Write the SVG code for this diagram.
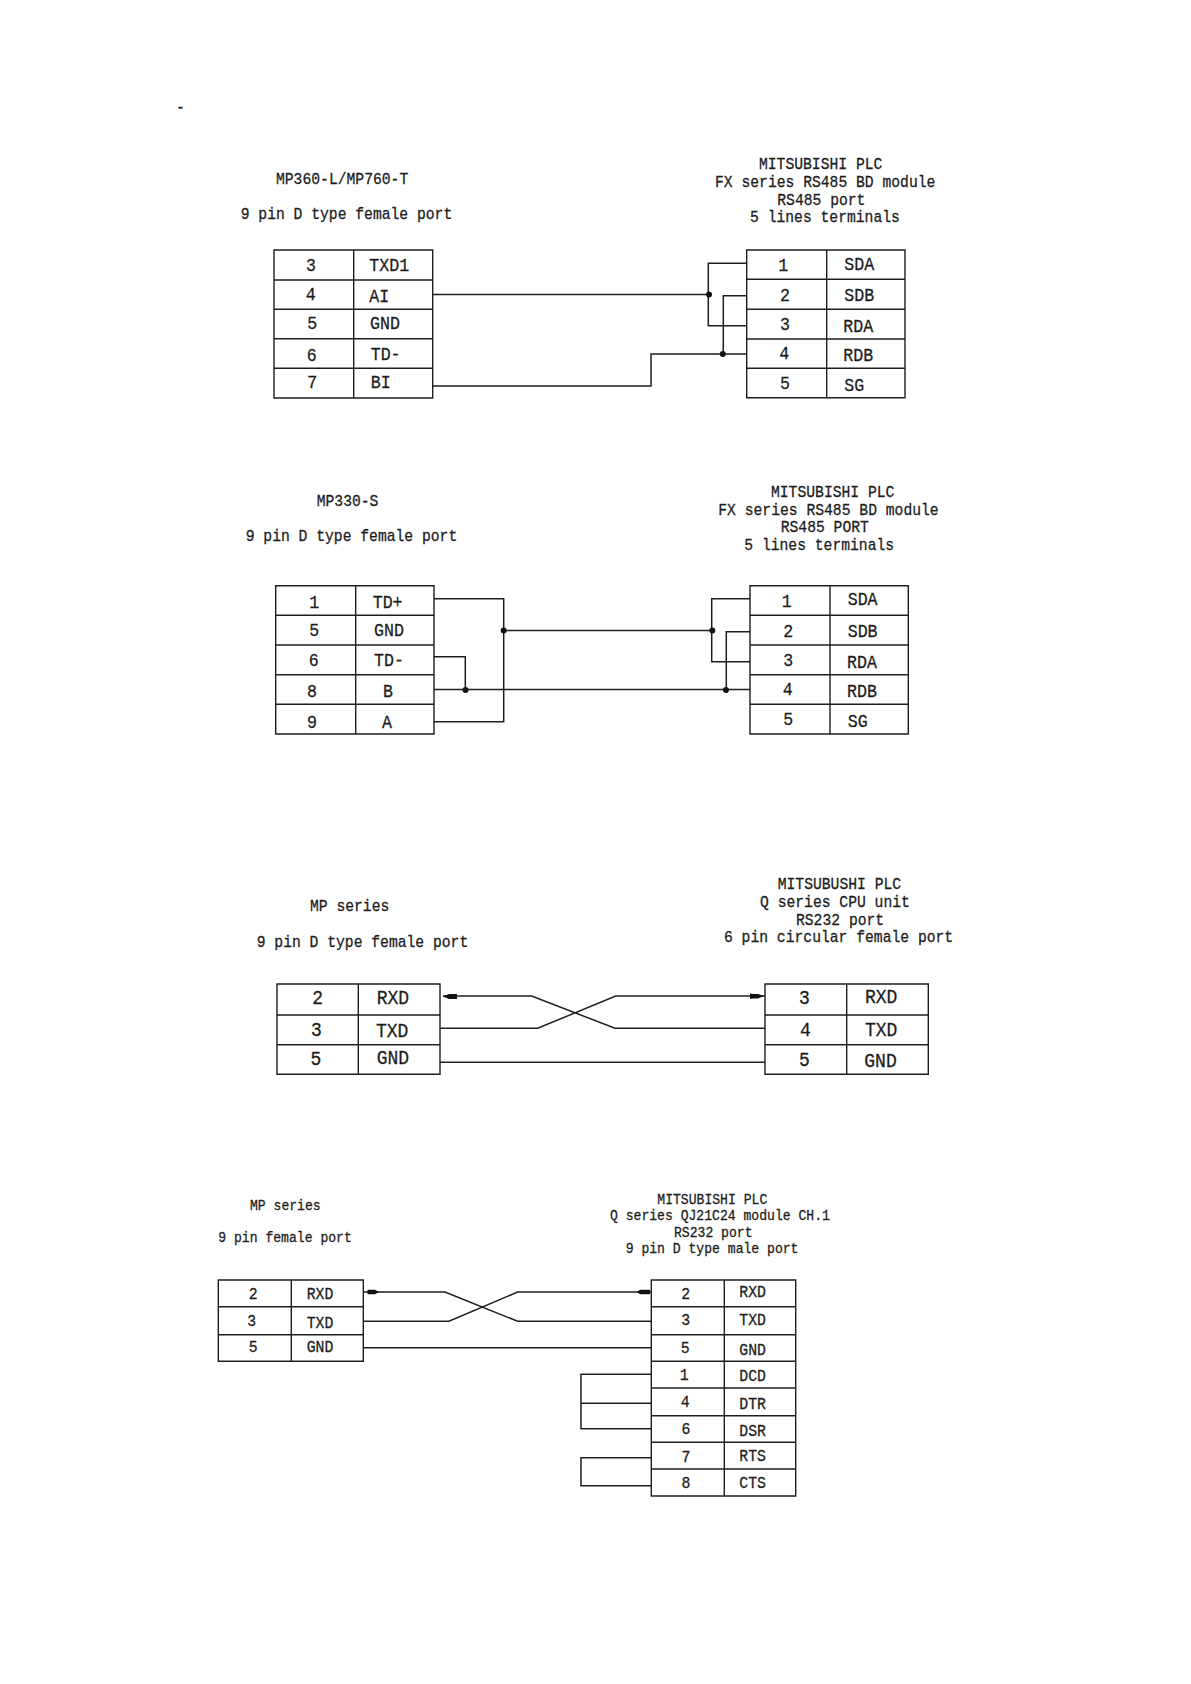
<svg xmlns="http://www.w3.org/2000/svg" width="1191" height="1684" viewBox="0 0 1191 1684">
<style>
text{font-family:"Liberation Mono",monospace;fill:#1c1c1c;stroke:#1c1c1c;stroke-width:.25;transform-box:fill-box;transform-origin:0 74%;transform:translateY(-.8px) scaleY(1.16)}
.t{font-size:14.7px}
.s{font-size:13.1px}
.c1{font-size:16.6px}
.c2{font-size:18px}
.c3{font-size:14.8px}
.n{text-anchor:middle}
.b{fill:none;stroke:#1e1e1e;stroke-width:1.4}
.w{fill:none;stroke:#1e1e1e;stroke-width:1.5}
.d{fill:#111}
</style>
<rect width="1191" height="1684" fill="#fff"/>
<text id="dash" x="176" y="113" class="t">-</text>

<g id="connectors">
<path class="w" d="M433 294.5H709M746.7 263.3H708.3V325.7H746.7M746.7 295.7H723.3V354M746.7 354H651V386H433"/>
<circle class="d" cx="709" cy="294.5" r="3"/><circle class="d" cx="722.8" cy="354" r="3"/>
<path class="w" d="M434 598.7H503.7V721.7H434M503.7 630.5H712M750 598.7H711.7V661.7H750M750 631.7H726.3V689.5M434 689.5H750M434 656.7H465.3V689.5"/>
<circle class="d" cx="503.7" cy="630.5" r="3"/><circle class="d" cx="712.3" cy="630.5" r="3"/><circle class="d" cx="465.5" cy="690" r="3"/><circle class="d" cx="726" cy="690" r="3"/>
<path class="w" d="M443 996H531.7L615 1028.3H765M440 1028.3H537.7L615.7 996H765M440 1062.3H765"/>
<path class="d" d="M443 996.5L449 994H457V999H449Z"/>
<path class="d" d="M750 993.5L753 994H758L764 996L758 998.5H753L750 999Z"/>
<path class="w" d="M364 1292H445L517.7 1321.3H651.3M363.3 1321.3H449L517.7 1292H651.3M363.3 1347.7H651.3"/>
<path class="d" d="M367.5 1289.8H375L379 1292L375 1294.2H367.5Z"/>
<path class="d" d="M637 1292L640 1289.8H650V1294.2H640Z"/>
<path class="w" d="M651.3 1374.3H581V1428.7H651.3M581 1403.3H651.3M651.3 1457.7H581V1485.7H651.3"/>
</g>

<g id="plc-table-1-left">
<path class="b" d="M274 250H432.7V398H274ZM353.7 250V398M274 280H432.7M274 309.3H432.7M274 338.7H432.7M274 368.3H432.7"/>
<text class="t" x="276" y="185">MP360-L/MP760-T</text>
<text class="t" x="240.7" y="220">9 pin D type female port</text>
<text class="c1 n" x="311" y="271.7">3</text><text class="c1" x="369.3" y="271.7">TXD1</text>
<text class="c1 n" x="310.7" y="301">4</text><text class="c1" x="369.3" y="302.7">AI</text>
<text class="c1 n" x="312.3" y="329.3">5</text><text class="c1" x="370" y="329.3">GND</text>
<text class="c1 n" x="311.7" y="361.7">6</text><text class="c1" x="370.7" y="361">TD-</text>
<text class="c1 n" x="312.3" y="388.3">7</text><text class="c1" x="370.7" y="388.3">BI</text>
</g>

<g id="plc-table-1-right">
<path class="b" d="M746.7 250H905V397.7H746.7ZM826.7 250V397.7M746.7 279.3H905M746.7 309.3H905M746.7 339H905M746.7 368.3H905"/>
<text class="t" x="759" y="170">MITSUBISHI PLC</text>
<text class="t" x="715" y="187.7">FX series RS485 BD module</text>
<text class="t" x="777.3" y="205.7">RS485 port</text>
<text class="t" x="750" y="223">5 lines terminals</text>
<text class="c1 n" x="783.3" y="271.7">1</text><text class="c1" x="844.3" y="270.7">SDA</text>
<text class="c1 n" x="785" y="301.7">2</text><text class="c1" x="844.3" y="301.7">SDB</text>
<text class="c1 n" x="785" y="330.7">3</text><text class="c1" x="843.3" y="332.3">RDA</text>
<text class="c1 n" x="784.3" y="360">4</text><text class="c1" x="843.3" y="361.7">RDB</text>
<text class="c1 n" x="785" y="390">5</text><text class="c1" x="844.3" y="391.7">SG</text>
</g>

<g id="plc-table-2-left">
<path class="b" d="M275.7 585.7H434V734H275.7ZM355.7 585.7V734M275.7 615.3H434M275.7 645H434M275.7 674.7H434M275.7 704.3H434"/>
<text class="t" x="316.7" y="506.7">MP330-S</text>
<text class="t" x="245.7" y="542">9 pin D type female port</text>
<text class="c1 n" x="314.3" y="609">1</text><text class="c1" x="372.7" y="609">TD+</text>
<text class="c1 n" x="314.3" y="636.7">5</text><text class="c1" x="374" y="636.7">GND</text>
<text class="c1 n" x="313.7" y="666.7">6</text><text class="c1" x="374" y="666.7">TD-</text>
<text class="c1 n" x="312" y="697.3">8</text><text class="c1" x="383" y="697.3">B</text>
<text class="c1 n" x="312" y="728.3">9</text><text class="c1" x="382" y="728.3">A</text>
</g>

<g id="plc-table-2-right">
<path class="b" d="M750 585.7H908.3V734H750ZM830 585.7V734M750 615.3H908.3M750 645H908.3M750 674.7H908.3M750 704.3H908.3"/>
<text class="t" x="771" y="497.7">MITSUBISHI PLC</text>
<text class="t" x="718.3" y="515.7">FX series RS485 BD module</text>
<text class="t" x="780.7" y="533.3">RS485 PORT</text>
<text class="t" x="744.3" y="551">5 lines terminals</text>
<text class="c1 n" x="786.7" y="607.3">1</text><text class="c1" x="847.7" y="606">SDA</text>
<text class="c1 n" x="788.3" y="637.3">2</text><text class="c1" x="847.7" y="637.3">SDB</text>
<text class="c1 n" x="788.3" y="666.7">3</text><text class="c1" x="847" y="668.3">RDA</text>
<text class="c1 n" x="787.7" y="696">4</text><text class="c1" x="847" y="697.7">RDB</text>
<text class="c1 n" x="788.3" y="725.7">5</text><text class="c1" x="847.7" y="727.3">SG</text>
</g>

<g id="plc-table-3-left">
<path class="b" d="M277 984H440V1074.3H277ZM358.3 984V1074.3M277 1015H440M277 1044.7H440"/>
<text class="t" x="310" y="912.3">MP series</text>
<text class="t" x="256.7" y="947.7">9 pin D type female port</text>
<text class="c2 n" x="317.7" y="1005">2</text><text class="c2" x="376.7" y="1005">RXD</text>
<text class="c2 n" x="316.3" y="1036.7">3</text><text class="c2" x="376" y="1037.7">TXD</text>
<text class="c2 n" x="316" y="1066">5</text><text class="c2" x="376.7" y="1065">GND</text>
</g>

<g id="plc-table-3-right">
<path class="b" d="M765 984H928.3V1074.3H765ZM846.7 984V1074.3M765 1015H928.3M765 1044.7H928.3"/>
<text class="t" x="777.7" y="890">MITSUBUSHI PLC</text>
<text class="t" x="760" y="907.7">Q series CPU unit</text>
<text class="t" x="796" y="925.7">RS232 port</text>
<text class="t" x="724" y="943.3">6 pin circular female port</text>
<text class="c2 n" x="804.3" y="1005">3</text><text class="c2" x="865" y="1004">RXD</text>
<text class="c2 n" x="805.3" y="1036.7">4</text><text class="c2" x="865" y="1036.7">TXD</text>
<text class="c2 n" x="804.3" y="1066.7">5</text><text class="c2" x="864.3" y="1067.7">GND</text>
</g>

<g id="plc-table-4-left">
<path class="b" d="M218.3 1280H363.3V1361.3H218.3ZM291.3 1280V1361.3M218.3 1306.7H363.3M218.3 1334.7H363.3"/>
<text class="s" x="250" y="1210.7">MP series</text>
<text class="s" x="218.3" y="1242.7">9 pin female port</text>
<text class="c3 n" x="253.3" y="1300">2</text><text class="c3" x="306.7" y="1300">RXD</text>
<text class="c3 n" x="251.7" y="1327.3">3</text><text class="c3" x="306.7" y="1329">TXD</text>
<text class="c3 n" x="253.3" y="1352.7">5</text><text class="c3" x="306.7" y="1352.7">GND</text>
</g>

<g id="plc-table-4-right">
<path class="b" d="M651.3 1280H795.7V1496H651.3ZM724.3 1280V1496M651.3 1306.7H795.7M651.3 1334.7H795.7M651.3 1361.3H795.7M651.3 1388H795.7M651.3 1415.7H795.7M651.3 1442.3H795.7M651.3 1469H795.7"/>
<text class="s" x="657.3" y="1205">MITSUBISHI PLC</text>
<text class="s" x="610" y="1221">Q series QJ21C24 module CH.1</text>
<text class="s" x="674" y="1237.7">RS232 port</text>
<text class="s" x="625.7" y="1254">9 pin D type male port</text>
<text class="c3 n" x="685.7" y="1300">2</text><text class="c3" x="739.3" y="1298.3">RXD</text>
<text class="c3 n" x="685.7" y="1326">3</text><text class="c3" x="739.3" y="1326">TXD</text>
<text class="c3 n" x="685.3" y="1354">5</text><text class="c3" x="739.3" y="1355.7">GND</text>
<text class="c3 n" x="684.3" y="1380.7">1</text><text class="c3" x="739.3" y="1381.7">DCD</text>
<text class="c3 n" x="685.3" y="1408.3">4</text><text class="c3" x="739.3" y="1410">DTR</text>
<text class="c3 n" x="686" y="1435">6</text><text class="c3" x="739.3" y="1437.3">DSR</text>
<text class="c3 n" x="686" y="1463.3">7</text><text class="c3" x="739.3" y="1461.7">RTS</text>
<text class="c3 n" x="686" y="1489.3">8</text><text class="c3" x="739.3" y="1489">CTS</text>
</g>
</svg>
